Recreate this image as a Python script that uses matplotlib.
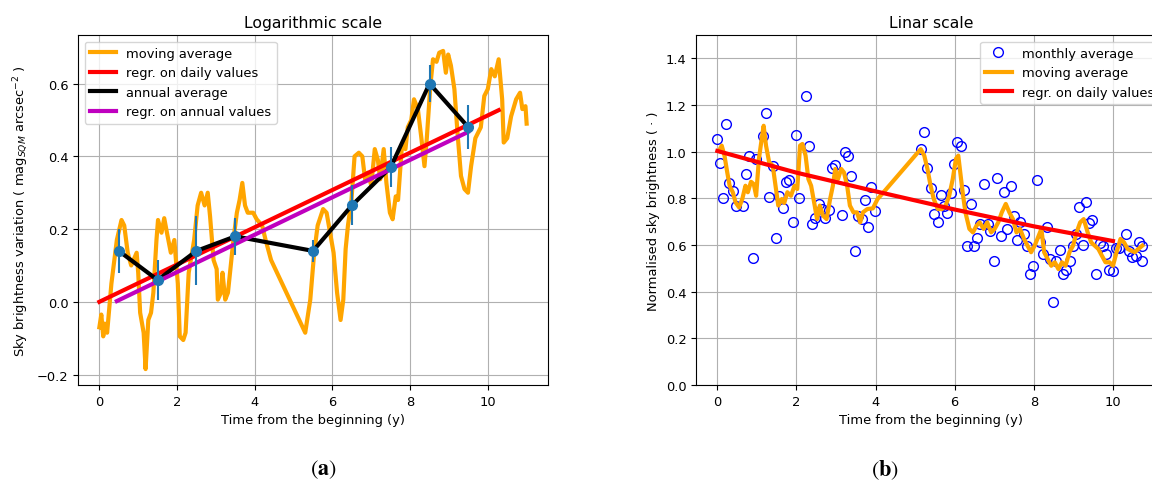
"""Sky brightness trend: logarithmic vs linear scale panels."""

import matplotlib

matplotlib.use("Agg")
from matplotlib import pyplot as plt  # noqa: E402

plt.rcParams["font.size"] = 9.4

# --- left panel (logarithmic scale) ---
log_ma_x = [
    0.0, 0.05, 0.1, 0.14, 0.2, 0.31, 0.45, 0.57, 0.64, 0.73, 0.82, 0.96,
    1.0, 1.05, 1.14, 1.19, 1.26, 1.33, 1.39, 1.47, 1.51, 1.6, 1.67, 1.74,
    1.84, 1.93, 2.02, 2.07, 2.16, 2.22, 2.3, 2.44, 2.53, 2.62, 2.71, 2.79,
    2.85, 2.94, 3.02, 3.05, 3.13, 3.17, 3.24, 3.31, 3.39, 3.45, 3.54, 3.61,
    3.68, 3.75, 3.82, 3.96, 4.05, 4.19, 4.28, 4.42, 5.3, 5.43, 5.53, 5.62,
    5.76, 5.85, 5.94, 6.03, 6.12, 6.21, 6.28, 6.34, 6.4, 6.49, 6.57, 6.68,
    6.77, 6.84, 6.91, 7.0, 7.09, 7.17, 7.23, 7.32, 7.39, 7.48, 7.55, 7.63,
    7.69, 7.79, 7.88, 7.94, 8.03, 8.1, 8.2, 8.29, 8.37, 8.43, 8.52, 8.59,
    8.68, 8.75, 8.85, 8.92, 8.98, 9.05, 9.14, 9.22, 9.31, 9.4, 9.49, 9.57,
    9.68, 9.82, 9.91, 10.0, 10.09, 10.18, 10.28, 10.37, 10.41, 10.5, 10.6,
    10.73, 10.83, 10.89, 10.97, 11.0,
]
log_ma_y = [
    -0.07, -0.035, -0.095, -0.06, -0.085, 0.05, 0.17, 0.225, 0.21, 0.135,
    0.10, 0.135, 0.08, -0.03, -0.085, -0.185, -0.05, -0.03, 0.025, 0.17,
    0.225, 0.19, 0.23, 0.19, 0.135, 0.17, 0.05, -0.095, -0.105, -0.085,
    0.08, 0.17, 0.265, 0.30, 0.265, 0.30, 0.235, 0.115, 0.09, 0.006, 0.025,
    0.08, 0.006, 0.025, 0.107, 0.17, 0.245, 0.28, 0.327, 0.265, 0.245,
    0.245, 0.227, 0.21, 0.17, 0.115, -0.085, 0.006, 0.135, 0.21, 0.255,
    0.245, 0.19, 0.135, 0.025, -0.05, 0.006, 0.145, 0.21, 0.28, 0.40, 0.41,
    0.40, 0.337, 0.355, 0.32, 0.42, 0.39, 0.337, 0.42, 0.327, 0.245, 0.227,
    0.29, 0.28, 0.43, 0.42, 0.48, 0.50, 0.557, 0.53, 0.45, 0.373, 0.45,
    0.593, 0.667, 0.66, 0.685, 0.69, 0.63, 0.68, 0.65, 0.585, 0.465, 0.346,
    0.31, 0.30, 0.373, 0.45, 0.48, 0.566, 0.585, 0.64, 0.62, 0.667, 0.557,
    0.438, 0.45, 0.51, 0.557, 0.575, 0.53, 0.538, 0.49,
]

annual_x = [0.5, 1.5, 2.5, 3.5, 5.5, 6.5, 7.5, 8.5, 9.5]
annual_y = [0.14, 0.06, 0.14, 0.18, 0.14, 0.265, 0.37, 0.60, 0.48]
annual_err = [0.06, 0.055, 0.095, 0.05, 0.03, 0.055, 0.055, 0.05, 0.06]

daily_fit_x = [0.0, 10.28]
daily_fit_y = [0.0, 0.527]
annual_fit_x = [0.45, 9.49]
annual_fit_y = [0.002, 0.467]

# --- right panel (linear scale) ---
monthly_x = [
    0.0, 0.06, 0.23, 0.15, 0.29, 0.39, 0.48, 0.64, 0.73, 0.81, 0.89, 0.98,
    1.15, 1.23, 1.31, 1.40, 1.48, 1.56, 1.65, 1.73, 1.82, 1.90, 1.98, 2.06,
    2.23, 2.31, 2.39, 2.47, 2.56, 2.64, 2.73, 2.82, 2.89, 2.98, 3.15, 3.23,
    3.31, 3.39, 3.48, 3.56, 3.65, 3.74, 3.82, 3.89, 3.98, 5.14, 5.23, 5.31,
    5.39, 5.47, 5.57, 5.65, 5.73, 5.81, 5.90, 5.97, 6.06, 6.15, 6.23, 6.31,
    6.40, 6.49, 6.57, 6.65, 6.73, 6.83, 6.90, 6.99, 7.07, 7.16, 7.24, 7.32,
    7.41, 7.49, 7.57, 7.65, 7.75, 7.82, 7.90, 7.99, 8.07, 8.15, 8.23, 8.32,
    8.40, 8.48, 8.56, 8.65, 8.74, 8.82, 8.91, 8.99, 9.07, 9.15, 9.24, 9.32,
    9.40, 9.48, 9.57, 9.66, 9.74, 9.83, 9.91, 9.99, 10.07, 10.16, 10.32,
    10.40, 10.49, 10.57, 10.65, 10.74, 10.74,
]
monthly_y = [
    1.055, 0.951, 1.117, 0.80, 0.866, 0.833, 0.769, 0.769, 0.906, 0.98,
    0.543, 0.969, 1.066, 1.166, 0.806, 0.94, 0.631, 0.811, 0.76, 0.869,
    0.88, 0.70, 1.071, 0.80, 1.237, 1.026, 0.689, 0.717, 0.776, 0.754,
    0.717, 0.749, 0.929, 0.943, 0.729, 1.0, 0.983, 0.894, 0.574, 0.726,
    0.711, 0.791, 0.676, 0.849, 0.746, 1.011, 1.086, 0.931, 0.846, 0.734,
    0.70, 0.814, 0.766, 0.736, 0.823, 0.946, 1.04, 1.023, 0.837, 0.597,
    0.774, 0.597, 0.629, 0.689, 0.863, 0.689, 0.66, 0.531, 0.889, 0.637,
    0.829, 0.669, 0.854, 0.726, 0.623, 0.70, 0.646, 0.597, 0.474, 0.509,
    0.877, 0.614, 0.563, 0.677, 0.54, 0.354, 0.531, 0.58, 0.474, 0.494,
    0.531, 0.597, 0.646, 0.763, 0.60, 0.783, 0.694, 0.706, 0.474, 0.609,
    0.597, 0.56, 0.494, 0.489, 0.589, 0.589, 0.649, 0.574, 0.549, 0.554,
    0.614, 0.597, 0.531,
]

lin_ma_x = [
    0.04, 0.11, 0.18, 0.25, 0.31, 0.39, 0.46, 0.55, 0.63, 0.71, 0.77, 0.85,
    0.92, 0.98, 1.05, 1.12, 1.17, 1.23, 1.31, 1.40, 1.47, 1.54, 1.63, 1.69,
    1.77, 1.86, 1.95, 2.02, 2.09, 2.15, 2.23, 2.30, 2.37, 2.46, 2.52, 2.59,
    2.67, 2.76, 2.85, 2.92, 2.98, 3.05, 3.13, 3.20, 3.28, 3.35, 3.44, 3.53,
    3.61, 3.68, 3.79, 3.93, 4.05, 4.20, 5.14, 5.23, 5.31, 5.39, 5.47, 5.57,
    5.68, 5.77, 5.86, 5.95, 6.03, 6.09, 6.14, 6.20, 6.27, 6.37, 6.46, 6.55,
    6.63, 6.73, 6.82, 6.92, 7.01, 7.10, 7.19, 7.29, 7.38, 7.47, 7.56, 7.65,
    7.75, 7.84, 7.93, 8.02, 8.09, 8.19, 8.26, 8.35, 8.44, 8.53, 8.62, 8.71,
    8.80, 8.90, 8.99, 9.08, 9.17, 9.26, 9.36, 9.45, 9.54, 9.63, 9.72, 9.81,
    9.91, 10.0, 10.09, 10.19, 10.28, 10.37, 10.46, 10.55, 10.64, 10.74,
]
lin_ma_y = [
    1.004, 1.026, 0.983, 0.911, 0.854, 0.826, 0.783, 0.761, 0.797, 0.854,
    0.826, 0.871, 0.861, 0.811, 0.969, 1.054, 1.111, 1.026, 0.954, 0.94,
    0.854, 0.769, 0.797, 0.78, 0.826, 0.811, 0.854, 0.84, 1.026, 1.033,
    0.983, 0.883, 0.854, 0.769, 0.711, 0.769, 0.726, 0.711, 0.797, 0.854,
    0.926, 0.883, 0.926, 0.911, 0.854, 0.769, 0.74, 0.74, 0.697, 0.74,
    0.754, 0.757, 0.797, 0.826, 1.011, 0.983, 0.926, 0.854, 0.797, 0.754,
    0.754, 0.769, 0.811, 0.883, 0.969, 0.983, 0.911, 0.826, 0.74, 0.669,
    0.654, 0.683, 0.697, 0.669, 0.697, 0.654, 0.669, 0.697, 0.74, 0.776,
    0.74, 0.711, 0.654, 0.669, 0.626, 0.597, 0.569, 0.597, 0.626, 0.669,
    0.569, 0.54, 0.511, 0.526, 0.497, 0.526, 0.511, 0.569, 0.597, 0.654,
    0.697, 0.711, 0.654, 0.611, 0.597, 0.583, 0.554, 0.526, 0.526, 0.511,
    0.569, 0.626, 0.611, 0.583, 0.576, 0.569, 0.583, 0.597,
]

lin_fit_x = [0.0, 2.0, 4.0, 6.0, 8.0, 10.0]
lin_fit_y = [1.003, 0.91, 0.83, 0.752, 0.68, 0.617]

fig = plt.figure(figsize=(11.52, 4.85), dpi=100)
ax1 = fig.add_axes([78 / 1152, 99 / 485, 470 / 1152, 350 / 485])
# right panel runs past the figure edge, as in the source image
ax2 = fig.add_axes([696 / 1152, 99 / 485, 470 / 1152, 350 / 485])

ax1.plot(log_ma_x, log_ma_y, color="orange", linewidth=3, label="moving average")
ax1.plot(daily_fit_x, daily_fit_y, color="red", linewidth=3,
         label="regr. on daily values")
ax1.plot(annual_x, annual_y, color="black", linewidth=3, label="annual average")
ax1.plot(annual_fit_x, annual_fit_y, color="m", linewidth=3,
         label="regr. on annual values")
ax1.errorbar(annual_x, annual_y, yerr=annual_err, fmt="o", color="C0",
             markersize=7, zorder=5)
ax1.set_title("Logarithmic scale")
ax1.set_xlabel("Time from the beginning (y)")
ax1.set_ylabel(r"Sky brightness variation ( mag$_{SQM}$ arcsec$^{-2}$ )")
ax1.set_yticks([-0.2, 0.0, 0.2, 0.4, 0.6])
ax1.grid(True)
ax1.legend(loc="upper left")

ax2.plot(monthly_x, monthly_y, "o", mfc="none", mec="b", markersize=7,
         label="monthly average")
ax2.plot(lin_ma_x, lin_ma_y, color="orange", linewidth=3, label="moving average")
ax2.plot(lin_fit_x, lin_fit_y, color="red", linewidth=3,
         label="regr. on daily values")
ax2.set_title("Linar scale")
ax2.set_xlabel("Time from the beginning (y)")
ax2.set_ylabel("Normalised sky brightness ( · )")
ax2.set_ylim(0, 1.5)
ax2.set_xlim(-0.54, 11.34)
ax2.set_yticks([0.0, 0.2, 0.4, 0.6, 0.8, 1.0, 1.2, 1.4])
ax2.grid(True)
ax2.legend(loc="upper right")

fig.text(323 / 1152, 15 / 485, r"$(\mathbf{a})$", math_fontfamily="stix",
         fontsize=16, ha="center", va="center")
fig.text(885 / 1152, 15 / 485, r"$(\mathbf{b})$", math_fontfamily="stix",
         fontsize=16, ha="center", va="center")

fig.savefig("out.png", dpi=100)
plt.close(fig)
